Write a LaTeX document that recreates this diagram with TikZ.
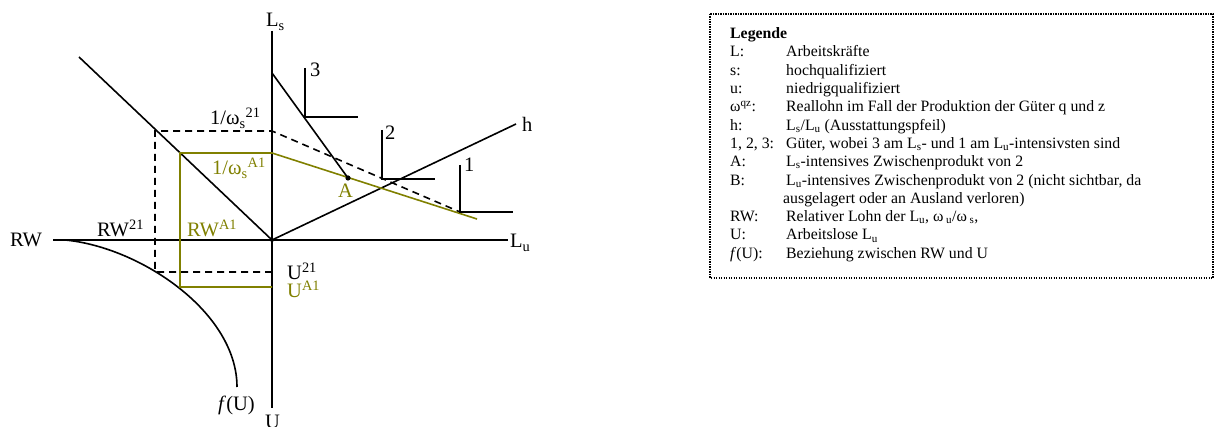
\documentclass[tikz,border=0pt]{standalone}
\usepackage{fontspec}
\setmainfont{Liberation Serif}
\definecolor{ol}{RGB}{128,128,0}
\begin{document}
\begin{tikzpicture}[x=1pt,y=-1pt,
  ln/.style={line width=1.6pt},
  dsh/.style={line width=1.6pt,dash pattern=on 7pt off 5pt},
  olv/.style={draw=ol,line width=1.6pt},
  lab/.style={anchor=base west,inner sep=0pt,font=\fontsize{20.5}{24}\selectfont},
  leg/.style={anchor=base west,inner sep=0pt,font=\fontsize{15.8}{18}\selectfont},
  box/.style={line width=1.1pt,dash pattern=on 1.1pt off 1.4pt}]
\useasboundingbox (0,0) rectangle (1215,427);
% coordinates
\coordinate (O) at (272,240);
\coordinate (Ltop) at (272,31);
\coordinate (Ubot) at (272,408);
\coordinate (RWl) at (53,240);
\coordinate (Lur) at (508,240);
\coordinate (D1) at (79,57);
\coordinate (hend) at (516,124);
\coordinate (P21) at (272,131);
\coordinate (W21) at (155,131);
\coordinate (Q21) at (155,272);
\coordinate (R21) at (272,272);
\coordinate (PA) at (272,153);
\coordinate (WA) at (180,153);
\coordinate (QA) at (180,287);
\coordinate (RA) at (272,287);
\coordinate (EA) at (477,219);
\coordinate (T3) at (272,73);
\coordinate (A) at (348,178);
\coordinate (G3) at (305,68);
\coordinate (C3) at (305,117);
\coordinate (H3) at (358,117);
\coordinate (G2) at (382,130);
\coordinate (C2) at (382,179);
\coordinate (H2) at (435,179);
\coordinate (G1) at (460,165);
\coordinate (C1) at (460,212);
\coordinate (H1) at (513,212);
\coordinate (F0) at (65,240);
\coordinate (Fa) at (140,247);
\coordinate (Fb) at (237,312);
\coordinate (F1) at (237,387);
% axes
\draw[ln] (Ltop) -- (Ubot);
\draw[ln] (RWl) -- (Lur);
\draw[ln] (D1) -- (O);
\draw[ln] (O) -- (hend);
\draw[ln] (F0) .. controls (Fa) and (Fb) .. (F1);
% dashed 21
\draw[dsh] (R21) -- (Q21) -- (W21) -- (P21) -- (C1);
% olive A1
\draw[olv] (RA) -- (QA) -- (WA) -- (PA) -- (EA);
% line 3
\draw[ln] (T3) -- (A);
% isoquants
\draw[ln] (G3) -- (C3) -- (H3);
\draw[ln] (G2) -- (C2) -- (H2);
\draw[ln] (G1) -- (C1) -- (H1);
\fill (A) circle (2.6pt);
\fill (O) circle (2pt);
% labels
\node[lab] (lLs) at (266,27) {L\textsubscript{s}};
\node[lab] (lU) at (265,428) {U};
\node[lab] (lRW) at (10,247) {RW};
\node[lab] (lLu) at (510,248) {L\textsubscript{u}};
\node[lab] (lh) at (522,132) {h};
\node[lab] (l3) at (310,77) {3};
\node[lab] (l2) at (385,140) {2};
\node[lab] (l1) at (464,172) {1};
\node[lab,text=ol] (lA) at (338,198) {A};
\node[lab] (lw21) at (210,125) {1/ω\textsubscript{s}\textsuperscript{21}};
\node[lab,text=ol] (lwA1) at (212,175) {1/ω\textsubscript{s}\textsuperscript{A1}};
\node[lab] (lRW21) at (97,237) {RW\textsuperscript{21}};
\node[lab,text=ol] (lRWA1) at (187,237) {RW\textsuperscript{A1}};
\node[lab] (lU21) at (287,280) {U\textsuperscript{21}};
\node[lab,text=ol] (lUA1) at (287,298) {U\textsuperscript{A1}};
\node[lab] (lfU) at (218,410) {\textit{f}(U)};
% legend
\draw[box] (710,14) rectangle (1213,278);
\node[leg] (g0) at (730,39) {\textbf{Legende}};
\node[leg] (k1) at (730,57) {L:};
\node[leg] (v1) at (786,57) {Arbeitskräfte};
\node[leg] (k2) at (730,75.3) {s:};
\node[leg] (v2) at (786,75.3) {hochqualifiziert};
\node[leg] (k3) at (730,93.6) {u:};
\node[leg] (v3) at (786,93.6) {niedrigqualifiziert};
\node[leg] (k4) at (730,111.9) {ω\textsuperscript{qz}:};
\node[leg] (v4) at (786,111.9) {Reallohn im Fall der Produktion der Güter q und z};
\node[leg] (k5) at (730,130.2) {h:};
\node[leg] (v5) at (786,130.2) {L\textsubscript{s}/L\textsubscript{u} (Ausstattungspfeil)};
\node[leg] (k6) at (730,148.5) {1, 2, 3:};
\node[leg] (v6) at (786,148.5) {Güter, wobei 3 am L\textsubscript{s}- und 1 am L\textsubscript{u}-intensivsten sind};
\node[leg] (k7) at (730,166.8) {A:};
\node[leg] (v7) at (786,166.8) {L\textsubscript{s}-intensives Zwischenprodukt von 2};
\node[leg] (k8) at (730,185.1) {B:};
\node[leg] (v8) at (786,185.1) {L\textsubscript{u}-intensives Zwischenprodukt von 2 (nicht sichtbar, da};
\node[leg] (v8b) at (783,203.4) {ausgelagert oder an Ausland verloren)};
\node[leg] (k9) at (730,221.7) {RW:};
\node[leg] (v9) at (786,221.7) {Relativer Lohn der L\textsubscript{u}, ω\,\textsubscript{u}/ω\,\textsubscript{s},};
\node[leg] (k10) at (730,240) {U:};
\node[leg] (v10) at (786,240) {Arbeitslose L\textsubscript{u}};
\node[leg] (k11) at (730,258.3) {\textit{f}(U):};
\node[leg] (v11) at (786,258.3) {Beziehung zwischen RW und U};
\end{tikzpicture}
\end{document}
